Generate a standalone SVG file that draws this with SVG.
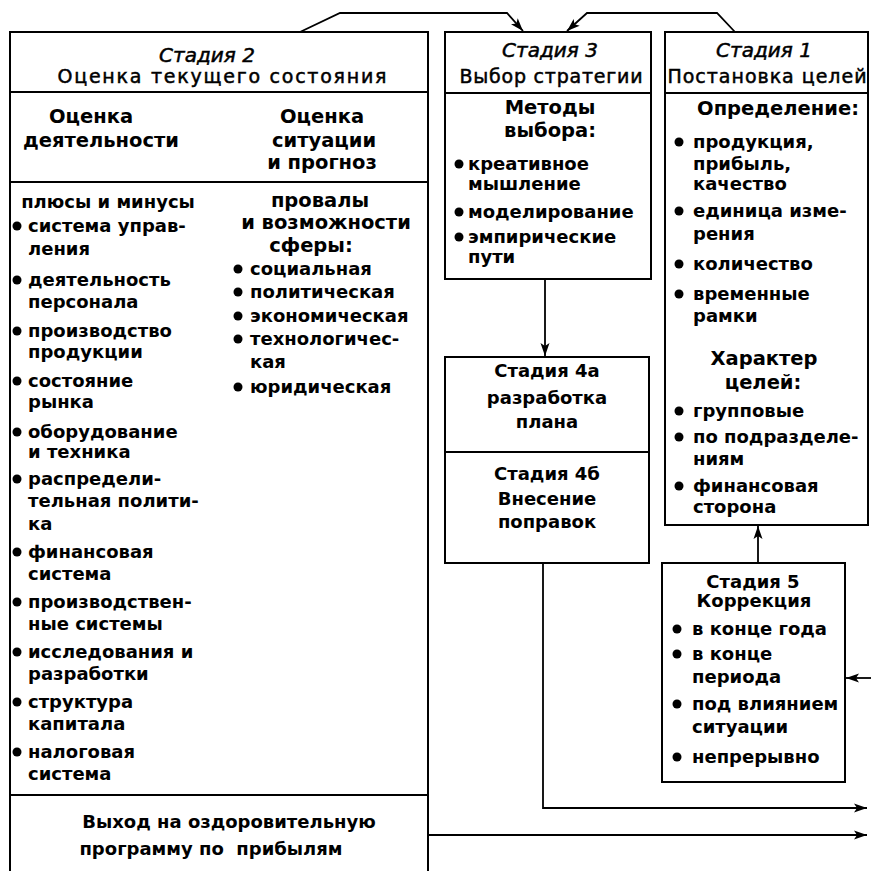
<svg xmlns="http://www.w3.org/2000/svg" width="871" height="871" viewBox="0 0 871 871">
<defs>
<marker id="ah" markerUnits="userSpaceOnUse" markerWidth="14" markerHeight="10" refX="13" refY="5" orient="auto">
<path d="M0,0.5 L13,5 L0,9.5 L3,5 z" fill="#000"/>
</marker>
<style>
text{font-family:"DejaVu Sans","Liberation Sans",sans-serif;fill:#000}
.h{font-size:19px;stroke:#000;stroke-width:0.5px}
.i{font-style:italic;font-size:20px}
.b{font-size:18px;font-weight:bold}
.s{font-size:19.5px;font-weight:bold}
.c{text-anchor:middle}
.box{fill:#fff;stroke:#000;stroke-width:2}
.ln{fill:none;stroke:#000;stroke-width:2}
.con{fill:none;stroke:#000;stroke-width:1.8}
.dot{fill:#000}
</style>
</defs>
<rect width="871" height="871" fill="#fff"/>

<g id="connectors">
<path class="con" d="M300,32 L340,13 L507,13 L523,31" marker-end="url(#ah)"/>
<path class="con" d="M735,32 L717,13 L587,13 L567,31" marker-end="url(#ah)"/>
<path class="con" d="M545,279 L545,356" marker-end="url(#ah)"/>
<path class="con" d="M758,563 L758,526" marker-end="url(#ah)"/>
<path class="con" d="M871,678 L846,678" marker-end="url(#ah)"/>
<path class="con" d="M543,563 L543,808 L867,808" marker-end="url(#ah)"/>
<path class="con" d="M428,835 L867,835" marker-end="url(#ah)"/>
</g>

<g id="stage2">
<rect class="box" x="10" y="32" width="418" height="850"/>
<line class="ln" x1="10" y1="92" x2="428" y2="92"/>
<line class="ln" x1="10" y1="182" x2="428" y2="182"/>
<line class="ln" x1="10" y1="795" x2="428" y2="795"/>
<text class="h i c" x="207" y="62">Стадия 2</text>
<text class="h c" x="222" y="83" textLength="329" lengthAdjust="spacing">Оценка текущего состояния</text>
<text class="s c" x="91" y="123">Оценка</text>
<text class="s c" x="101" y="147">деятельности</text>
<text class="s c" x="322" y="123">Оценка</text>
<text class="s c" x="324" y="147">ситуации</text>
<text class="s c" x="322" y="169">и прогноз</text>
<text class="b c" x="108" y="208">плюсы и минусы</text>
<g>
<circle class="dot" cx="17" cy="226" r="4.5"/><text class="b" x="28" y="232">система управ-</text><text class="b" x="28" y="255">ления</text>
<circle class="dot" cx="17" cy="280" r="4.5"/><text class="b" x="28" y="286">деятельность</text><text class="b" x="28" y="308">персонала</text>
<circle class="dot" cx="17" cy="331" r="4.5"/><text class="b" x="28" y="337">производство</text><text class="b" x="28" y="358">продукции</text>
<circle class="dot" cx="17" cy="381" r="4.5"/><text class="b" x="28" y="387">состояние</text><text class="b" x="28" y="408">рынка</text>
<circle class="dot" cx="17" cy="432" r="4.5"/><text class="b" x="28" y="438">оборудование</text><text class="b" x="28" y="458">и техника</text>
<circle class="dot" cx="17" cy="479" r="4.5"/><text class="b" x="28" y="485">распредели-</text><text class="b" x="28" y="507">тельная полити-</text><text class="b" x="28" y="530">ка</text>
<circle class="dot" cx="17" cy="552" r="4.5"/><text class="b" x="28" y="558">финансовая</text><text class="b" x="28" y="580">система</text>
<circle class="dot" cx="17" cy="602" r="4.5"/><text class="b" x="28" y="608">производствен-</text><text class="b" x="28" y="630">ные системы</text>
<circle class="dot" cx="17" cy="652" r="4.5"/><text class="b" x="28" y="658">исследования и</text><text class="b" x="28" y="680">разработки</text>
<circle class="dot" cx="17" cy="702" r="4.5"/><text class="b" x="28" y="708">структура</text><text class="b" x="28" y="730">капитала</text>
<circle class="dot" cx="17" cy="752" r="4.5"/><text class="b" x="28" y="758">налоговая</text><text class="b" x="28" y="780">система</text>
</g>
<text class="s c" x="320" y="207">провалы</text>
<text class="s c" x="326" y="229">и возможности</text>
<text class="s c" x="311" y="252">сферы:</text>
<circle class="dot" cx="238" cy="269" r="4.5"/><text class="b" x="250" y="275">социальная</text>
<circle class="dot" cx="238" cy="292" r="4.5"/><text class="b" x="250" y="298">политическая</text>
<circle class="dot" cx="238" cy="316" r="4.5"/><text class="b" x="250" y="322">экономическая</text>
<circle class="dot" cx="238" cy="339" r="4.5"/><text class="b" x="250" y="345">технологичес-</text><text class="b" x="250" y="368">кая</text>
<circle class="dot" cx="238" cy="387" r="4.5"/><text class="b" x="250" y="393">юридическая</text>
<text class="b c" x="229" y="828">Выход на оздоровительную</text>
<text class="b c" x="211" y="855" style="white-space:pre">программу по  прибылям</text>
</g>

<g id="stage3">
<rect class="box" x="445" y="32" width="206" height="247"/>
<line class="ln" x1="445" y1="93" x2="651" y2="93"/>
<text class="h i c" x="550" y="57">Стадия 3</text>
<text class="h c" x="551" y="83" textLength="183" lengthAdjust="spacing">Выбор стратегии</text>
<text class="s c" x="550" y="114">Методы</text>
<text class="s c" x="550" y="137">выбора:</text>
<circle class="dot" cx="459" cy="164" r="4.5"/><text class="b" x="468" y="170">креативное</text><text class="b" x="468" y="190">мышление</text>
<circle class="dot" cx="459" cy="212" r="4.5"/><text class="b" x="468" y="218">моделирование</text>
<circle class="dot" cx="459" cy="237" r="4.5"/><text class="b" x="468" y="243">эмпирические</text><text class="b" x="468" y="263">пути</text>
</g>

<g id="stage1">
<rect class="box" x="665" y="32" width="203" height="493"/>
<line class="ln" x1="665" y1="93" x2="868" y2="93"/>
<text class="h i c" x="764" y="57">Стадия 1</text>
<text class="h c" x="767" y="83" textLength="199" lengthAdjust="spacing">Постановка целей</text>
<text class="s c" x="778" y="115">Определение:</text>
<circle class="dot" cx="679" cy="142" r="4.5"/><text class="b" x="693" y="148">продукция,</text><text class="b" x="693" y="170">прибыль,</text><text class="b" x="693" y="190">качество</text>
<circle class="dot" cx="679" cy="211" r="4.5"/><text class="b" x="693" y="217">единица изме-</text><text class="b" x="693" y="240">рения</text>
<circle class="dot" cx="679" cy="264" r="4.5"/><text class="b" x="693" y="270">количество</text>
<circle class="dot" cx="679" cy="294" r="4.5"/><text class="b" x="693" y="300">временные</text><text class="b" x="693" y="322">рамки</text>
<text class="s c" x="764" y="365">Характер</text>
<text class="s c" x="763" y="389">целей:</text>
<circle class="dot" cx="679" cy="411" r="4.5"/><text class="b" x="693" y="417">групповые</text>
<circle class="dot" cx="679" cy="437" r="4.5"/><text class="b" x="693" y="443">по подразделе-</text><text class="b" x="693" y="465">ниям</text>
<circle class="dot" cx="679" cy="486" r="4.5"/><text class="b" x="693" y="492">финансовая</text><text class="b" x="693" y="513">сторона</text>
</g>

<g id="stage4">
<rect class="box" x="445" y="357" width="204" height="206"/>
<line class="ln" x1="445" y1="452" x2="649" y2="452"/>
<text class="b c" x="547" y="377">Стадия 4а</text>
<text class="b c" x="547" y="404">разработка</text>
<text class="b c" x="547" y="428">плана</text>
<text class="b c" x="547" y="480">Стадия 4б</text>
<text class="b c" x="547" y="505">Внесение</text>
<text class="b c" x="547" y="528">поправок</text>
</g>

<g id="stage5">
<rect class="box" x="662" y="563" width="183" height="219"/>
<text class="b c" x="753" y="588">Стадия 5</text>
<text class="b c" x="754" y="607">Коррекция</text>
<circle class="dot" cx="677" cy="629" r="4.5"/><text class="b" x="692" y="635">в конце года</text>
<circle class="dot" cx="677" cy="654" r="4.5"/><text class="b" x="692" y="660">в конце</text><text class="b" x="692" y="683">периода</text>
<circle class="dot" cx="677" cy="704" r="4.5"/><text class="b" x="692" y="710">под влиянием</text><text class="b" x="692" y="733">ситуации</text>
<circle class="dot" cx="677" cy="757" r="4.5"/><text class="b" x="692" y="763">непрерывно</text>
</g>
</svg>
